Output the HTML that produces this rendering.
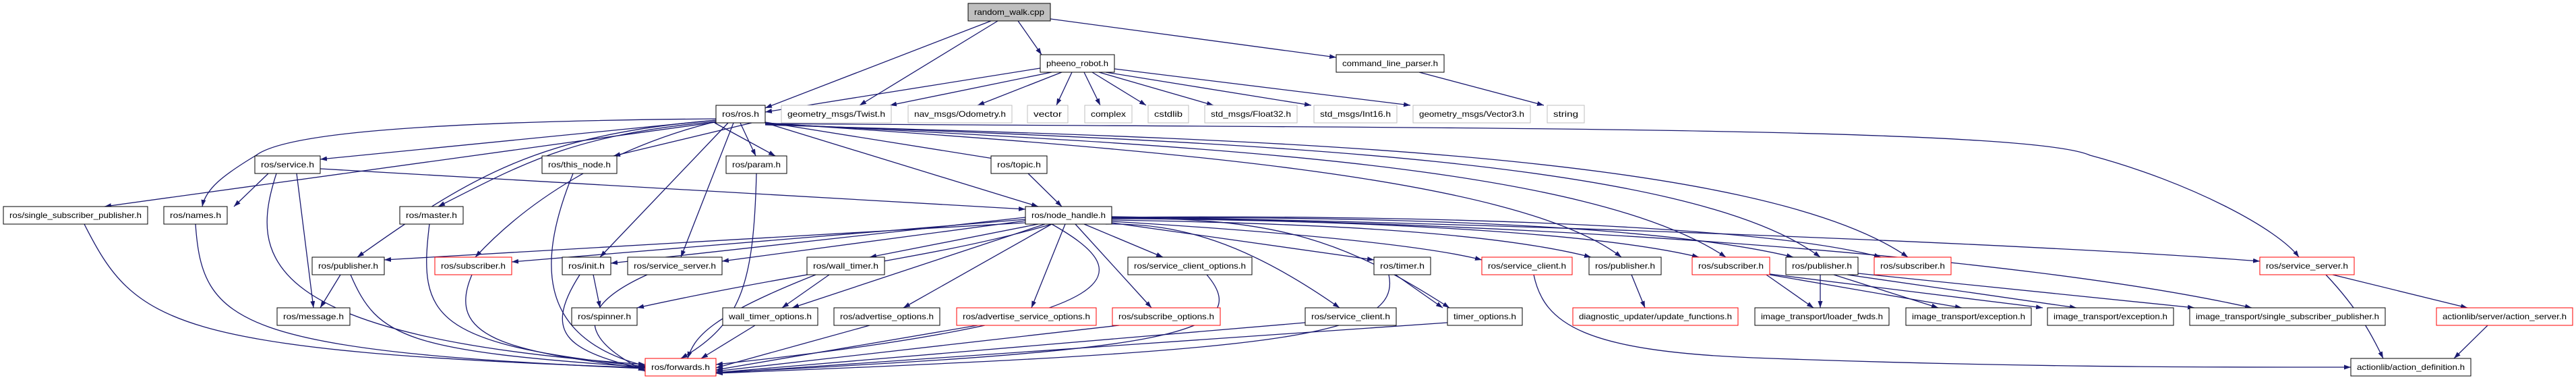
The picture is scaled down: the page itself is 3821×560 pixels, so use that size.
<!DOCTYPE html>
<html><head><meta charset="utf-8"><style>
html,body{margin:0;padding:0;background:#fff;}
svg{display:block;}
text{font-family:"Liberation Sans",Arial,sans-serif;font-size:12px;fill:#000;}
.e{fill:none;stroke:#191970;stroke-width:1.3;marker-end:url(#a);}
.n{fill:#fff;stroke:#000;stroke-width:1;}
.r{fill:#fff;stroke:#ff0000;stroke-width:1;}
.g{fill:#fff;stroke:#bfbfbf;stroke-width:1;}
</style></head><body>
<svg width="3821" height="560" viewBox="0 0 3821 560" xmlns="http://www.w3.org/2000/svg">
<defs><marker id="a" markerWidth="10" markerHeight="7" refX="10" refY="3.5" orient="auto" markerUnits="userSpaceOnUse"><path d="M0,0 L10,3.5 L0,7 z" fill="#191970"/></marker></defs>
<g>
<path class="e" d="M1470 31 L1135 160"/>
<path class="e" d="M1480 31 L1275 156"/>
<path class="e" d="M1510 31 L1545 81"/>
<path class="e" d="M1558 28 L1982 85"/>
<path class="e" d="M1543 101 L1135 166"/>
<path class="e" d="M1560 107 L1320 156"/>
<path class="e" d="M1575 107 L1450 156"/>
<path class="e" d="M1590 107 L1567 156"/>
<path class="e" d="M1608 107 L1632 156"/>
<path class="e" d="M1620 107 L1700 156"/>
<path class="e" d="M1630 107 L1800 156"/>
<path class="e" d="M1640 107 L1945 156"/>
<path class="e" d="M1653 102 L2092 156"/>
<path class="e" d="M2105 107 L2290 156"/>
<path class="e" d="M1062 178 L475 236"/>
<path class="e" d="M1062 181 L155 306 "/>
<path class="e" d="M1062 176 C600 180 420 200 380 230 C330 260 305 280 300 306"/>
<path class="e" d="M1062 180 C850 200 780 240 650 306"/>
<path class="e" d="M1062 178 C800 200 700 260 530 381"/>
<path class="e" d="M1062 180 C900 220 780 300 705 381"/>
<path class="e" d="M1080 182 L890 381"/>
<path class="e" d="M1088 182 L1010 381"/>
<path class="e" d="M1060 182 L1150 231"/>
<path class="e" d="M1098 182 L1121 231"/>
<path class="e" d="M1115 182 L910 231"/>
<path class="e" d="M1135 181 L1480 236"/>
<path class="e" d="M1135 182 L1540 306"/>
<path class="e" d="M1135 182 C1700 220 2250 260 2405 381"/>
<path class="e" d="M1135 183 C1750 215 2350 240 2560 381"/>
<path class="e" d="M1135 184 C1800 210 2500 230 2700 381"/>
<path class="e" d="M1135 185 C1800 205 2600 220 2830 381"/>
<path class="e" d="M1135 183 C2000 190 3000 185 3100 230 C3250 270 3380 340 3410 381"/>
<path class="e" d="M398 257 L347 306"/>
<path class="e" d="M440 257 L465 456"/>
<path class="e" d="M410 257 C370 380 380 500 957 540"/>
<path class="e" d="M475 250 L1521 310"/>
<path class="e" d="M850 257 C800 380 790 500 957 542"/>
<path class="e" d="M1122 257 C1118 420 1100 480 1010 531"/>
<path class="e" d="M1525 257 L1575 306"/>
<path class="e" d="M125 332 C200 480 250 520 957 545"/>
<path class="e" d="M290 332 C300 480 350 520 957 546"/>
<path class="e" d="M637 332 C620 470 640 510 957 543"/>
<path class="e" d="M1521 330 L570 385"/>
<path class="e" d="M1521 325 L759 388"/>
<path class="e" d="M1521 322 L906 390"/>
<path class="e" d="M1521 327 L1071 387"/>
<path class="e" d="M1540 332 L1290 381"/>
<path class="e" d="M1560 332 C1400 380 1200 400 945 456"/>
<path class="e" d="M1550 332 L1175 456"/>
<path class="e" d="M1560 332 L1340 456"/>
<path class="e" d="M1580 332 L1530 456"/>
<path class="e" d="M1595 332 L1708 456"/>
<path class="e" d="M1608 332 L1725 381"/>
<path class="e" d="M1640 332 C1750 330 1850 360 1987 456"/>
<path class="e" d="M1649 330 L2038 385"/>
<path class="e" d="M1649 328 C1850 340 2100 360 2198 385"/>
<path class="e" d="M1649 326 C1900 330 2200 340 2360 381"/>
<path class="e" d="M1649 324 C1950 325 2350 340 2520 381"/>
<path class="e" d="M1649 323 C2000 320 2450 330 2660 381"/>
<path class="e" d="M1649 322 C2050 318 2600 330 2790 381"/>
<path class="e" d="M1649 321 C2200 330 3000 360 3352 387"/>
<path class="e" d="M1649 324 C1900 320 2000 360 2150 456"/>
<path class="e" d="M1649 322 C2300 330 3000 380 3340 456"/>
<path class="e" d="M1560 332 C1680 400 1720 470 1062 540"/>
<path class="e" d="M505 407 L475 456"/>
<path class="e" d="M520 407 C560 500 600 520 957 544"/>
<path class="e" d="M700 407 C660 500 750 520 957 546"/>
<path class="e" d="M860 407 C800 500 850 520 957 548"/>
<path class="e" d="M880 407 L890 456"/>
<path class="e" d="M960 407 C820 470 900 520 957 550"/>
<path class="e" d="M1230 407 L1160 456"/>
<path class="e" d="M1210 407 C1050 470 1030 500 1020 531"/>
<path class="e" d="M1120 482 L1040 531"/>
<path class="e" d="M1290 482 L1062 545"/>
<path class="e" d="M1450 482 L1062 548"/>
<path class="e" d="M1660 482 L1062 550"/>
<path class="e" d="M1790 407 C1870 500 1700 520 1062 552"/>
<path class="e" d="M1936 478 L1062 552"/>
<path class="e" d="M2070 407 L2140 456"/>
<path class="e" d="M2060 407 C2080 500 1900 520 1062 553"/>
<path class="e" d="M2147 478 L1062 553"/>
<path class="e" d="M2275 407 C2290 480 2350 520 2600 530 C3000 545 3300 544 3487 544"/>
<path class="e" d="M2420 407 L2440 456"/>
<path class="e" d="M2620 407 L2690 456"/>
<path class="e" d="M2625 407 L2910 456"/>
<path class="e" d="M2625 406 L3030 456"/>
<path class="e" d="M2700 407 L2700 456"/>
<path class="e" d="M2720 407 L2875 456"/>
<path class="e" d="M2740 407 L3080 456"/>
<path class="e" d="M2756 405 L3255 456"/>
<path class="e" d="M3460 407 L3660 456"/>
<path class="e" d="M3450 407 C3500 460 3520 500 3535 531"/>
<path class="e" d="M3690 482 L3640 531"/>
</g>
<g>
<rect x="1436" y="5" width="122" height="26" fill="#bfbfbf" stroke="#000"/><text x="1445" y="22" textLength="104" lengthAdjust="spacingAndGlyphs">random_walk.cpp</text>
<rect class="n" x="1543" y="81" width="110" height="26"/><text x="1552" y="98" textLength="92" lengthAdjust="spacingAndGlyphs">pheeno_robot.h</text>
<rect class="n" x="1982" y="81" width="160" height="26"/><text x="1991" y="98" textLength="142" lengthAdjust="spacingAndGlyphs">command_line_parser.h</text>

<rect class="n" x="1062" y="156" width="73" height="26"/><text x="1071" y="173" textLength="55" lengthAdjust="spacingAndGlyphs">ros/ros.h</text>
<rect class="g" x="1159" y="156" width="163" height="26"/><text x="1168" y="173" textLength="145" lengthAdjust="spacingAndGlyphs">geometry_msgs/Twist.h</text>
<rect class="g" x="1347" y="156" width="154" height="26"/><text x="1356" y="173" textLength="136" lengthAdjust="spacingAndGlyphs">nav_msgs/Odometry.h</text>
<rect class="g" x="1524" y="156" width="60" height="26"/><text x="1533" y="173" textLength="42" lengthAdjust="spacingAndGlyphs">vector</text>
<rect class="g" x="1609" y="156" width="70" height="26"/><text x="1618" y="173" textLength="52" lengthAdjust="spacingAndGlyphs">complex</text>
<rect class="g" x="1703" y="156" width="60" height="26"/><text x="1712" y="173" textLength="42" lengthAdjust="spacingAndGlyphs">cstdlib</text>
<rect class="g" x="1787" y="156" width="137" height="26"/><text x="1796" y="173" textLength="119" lengthAdjust="spacingAndGlyphs">std_msgs/Float32.h</text>
<rect class="g" x="1949" y="156" width="123" height="26"/><text x="1958" y="173" textLength="105" lengthAdjust="spacingAndGlyphs">std_msgs/Int16.h</text>
<rect class="g" x="2096" y="156" width="174" height="26"/><text x="2105" y="173" textLength="156" lengthAdjust="spacingAndGlyphs">geometry_msgs/Vector3.h</text>
<rect class="g" x="2295" y="156" width="55" height="26"/><text x="2304" y="173" textLength="37" lengthAdjust="spacingAndGlyphs">string</text>

<rect class="n" x="378" y="231" width="97" height="26"/><text x="387" y="248" textLength="79" lengthAdjust="spacingAndGlyphs">ros/service.h</text>
<rect class="n" x="804" y="231" width="111" height="26"/><text x="813" y="248" textLength="93" lengthAdjust="spacingAndGlyphs">ros/this_node.h</text>
<rect class="n" x="1077" y="231" width="90" height="26"/><text x="1086" y="248" textLength="72" lengthAdjust="spacingAndGlyphs">ros/param.h</text>
<rect class="n" x="1470" y="231" width="83" height="26"/><text x="1479" y="248" textLength="65" lengthAdjust="spacingAndGlyphs">ros/topic.h</text>

<rect class="n" x="5" y="306" width="214" height="26"/><text x="14" y="323" textLength="196" lengthAdjust="spacingAndGlyphs">ros/single_subscriber_publisher.h</text>
<rect class="n" x="243" y="306" width="94" height="26"/><text x="252" y="323" textLength="76" lengthAdjust="spacingAndGlyphs">ros/names.h</text>
<rect class="n" x="593" y="306" width="94" height="26"/><text x="602" y="323" textLength="76" lengthAdjust="spacingAndGlyphs">ros/master.h</text>
<rect class="n" x="1521" y="306" width="128" height="26"/><text x="1530" y="323" textLength="110" lengthAdjust="spacingAndGlyphs">ros/node_handle.h</text>

<rect class="n" x="463" y="381" width="107" height="26"/><text x="472" y="398" textLength="89" lengthAdjust="spacingAndGlyphs">ros/publisher.h</text>
<rect class="r" x="645" y="381" width="114" height="26"/><text x="654" y="398" textLength="96" lengthAdjust="spacingAndGlyphs">ros/subscriber.h</text>
<rect class="n" x="834" y="381" width="72" height="26"/><text x="843" y="398" textLength="54" lengthAdjust="spacingAndGlyphs">ros/init.h</text>
<rect class="n" x="931" y="381" width="140" height="26"/><text x="940" y="398" textLength="122" lengthAdjust="spacingAndGlyphs">ros/service_server.h</text>
<rect class="n" x="1197" y="381" width="115" height="26"/><text x="1206" y="398" textLength="97" lengthAdjust="spacingAndGlyphs">ros/wall_timer.h</text>
<rect class="n" x="1673" y="381" width="184" height="26"/><text x="1682" y="398" textLength="166" lengthAdjust="spacingAndGlyphs">ros/service_client_options.h</text>
<rect class="n" x="2038" y="381" width="84" height="26"/><text x="2047" y="398" textLength="66" lengthAdjust="spacingAndGlyphs">ros/timer.h</text>
<rect class="r" x="2198" y="381" width="134" height="26"/><text x="2207" y="398" textLength="116" lengthAdjust="spacingAndGlyphs">ros/service_client.h</text>
<rect class="n" x="2357" y="381" width="107" height="26"/><text x="2366" y="398" textLength="89" lengthAdjust="spacingAndGlyphs">ros/publisher.h</text>
<rect class="r" x="2510" y="381" width="115" height="26"/><text x="2519" y="398" textLength="97" lengthAdjust="spacingAndGlyphs">ros/subscriber.h</text>
<rect class="n" x="2649" y="381" width="107" height="26"/><text x="2658" y="398" textLength="89" lengthAdjust="spacingAndGlyphs">ros/publisher.h</text>
<rect class="r" x="2780" y="381" width="114" height="26"/><text x="2789" y="398" textLength="96" lengthAdjust="spacingAndGlyphs">ros/subscriber.h</text>
<rect class="r" x="3352" y="381" width="140" height="26"/><text x="3361" y="398" textLength="122" lengthAdjust="spacingAndGlyphs">ros/service_server.h</text>

<rect class="n" x="411" y="456" width="108" height="26"/><text x="420" y="473" textLength="90" lengthAdjust="spacingAndGlyphs">ros/message.h</text>
<rect class="n" x="848" y="456" width="97" height="26"/><text x="857" y="473" textLength="79" lengthAdjust="spacingAndGlyphs">ros/spinner.h</text>
<rect class="n" x="1072" y="456" width="141" height="26"/><text x="1081" y="473" textLength="123" lengthAdjust="spacingAndGlyphs">wall_timer_options.h</text>
<rect class="n" x="1237" y="456" width="157" height="26"/><text x="1246" y="473" textLength="139" lengthAdjust="spacingAndGlyphs">ros/advertise_options.h</text>
<rect class="r" x="1419" y="456" width="207" height="26"/><text x="1428" y="473" textLength="189" lengthAdjust="spacingAndGlyphs">ros/advertise_service_options.h</text>
<rect class="r" x="1650" y="456" width="160" height="26"/><text x="1659" y="473" textLength="142" lengthAdjust="spacingAndGlyphs">ros/subscribe_options.h</text>
<rect class="n" x="1936" y="456" width="135" height="26"/><text x="1945" y="473" textLength="117" lengthAdjust="spacingAndGlyphs">ros/service_client.h</text>
<rect class="n" x="2147" y="456" width="111" height="26"/><text x="2156" y="473" textLength="93" lengthAdjust="spacingAndGlyphs">timer_options.h</text>
<rect class="r" x="2333" y="456" width="245" height="26"/><text x="2342" y="473" textLength="227" lengthAdjust="spacingAndGlyphs">diagnostic_updater/update_functions.h</text>
<rect class="n" x="2603" y="456" width="199" height="26"/><text x="2612" y="473" textLength="181" lengthAdjust="spacingAndGlyphs">image_transport/loader_fwds.h</text>
<rect class="n" x="2827" y="456" width="186" height="26"/><text x="2836" y="473" textLength="168" lengthAdjust="spacingAndGlyphs">image_transport/exception.h</text>
<rect class="n" x="3037" y="456" width="187" height="26"/><text x="3046" y="473" textLength="169" lengthAdjust="spacingAndGlyphs">image_transport/exception.h</text>
<rect class="n" x="3248" y="456" width="290" height="26"/><text x="3257" y="473" textLength="272" lengthAdjust="spacingAndGlyphs">image_transport/single_subscriber_publisher.h</text>
<rect class="r" x="3614" y="456" width="202" height="26"/><text x="3623" y="473" textLength="184" lengthAdjust="spacingAndGlyphs">actionlib/server/action_server.h</text>

<rect class="r" x="957" y="531" width="105" height="26"/><text x="966" y="548" textLength="87" lengthAdjust="spacingAndGlyphs">ros/forwards.h</text>
<rect class="n" x="3487" y="531" width="178" height="26"/><text x="3496" y="548" textLength="160" lengthAdjust="spacingAndGlyphs">actionlib/action_definition.h</text>
</g>
</svg>
</body></html>
